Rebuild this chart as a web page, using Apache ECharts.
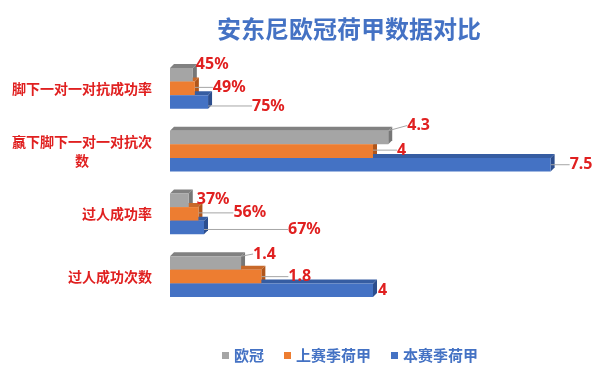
<!DOCTYPE html>
<html><head><meta charset="utf-8">
<script src="https://cdn.jsdelivr.net/npm/echarts@6/dist/echarts.min.js"></script>
<style>html,body{margin:0;padding:0;background:#fff}#c{width:600px;height:380px}</style>
</head><body><div id="c"></div>
<script>
const categories = ['脚下一对一对抗成功率', '赢下脚下一对一对抗次数', '过人成功率', '过人成功次数'];
const seriesNames = ['欧冠', '上赛季荷甲', '本赛季荷甲'];
const uclValues = [0.45, 4.3, 0.37, 1.4];
const lastSeasonValues = [0.49, 4, 0.56, 1.8];
const thisSeasonValues = [0.75, 7.5, 0.67, 4];
const percentCategory = [true, false, true, false];

const allValues = [uclValues, lastSeasonValues, thisSeasonValues];
const colors = [
  {front: '#A5A5A5', top: '#818181', side: '#777777'},
  {front: '#ED7D31', top: '#C8692A', side: '#B0561B'},
  {front: '#4472C4', top: '#365DA2', side: '#2C4E8E'}
];
const labelOffsets = [
  [[3, -10], [19, -12], [8, -1], [12, -9]],
  [[18, -1], [24, -1], [35, -1], [27, 0]],
  [[44, 4], [19, 0], [84, 2], [5, 0]]
];
const showLine = [[false, true, false, true], [true, true, true, true], [true, true, true, false]];
const CAT_GAP = 0.35;
const DEPTH = 4;
const RED = '#E02020';
const BLUE = '#4472C4';

function makeFaces(k) {
  return function (params, api) {
    const v = api.value(0), c = api.value(1);
    const pEnd = api.coord([v, c]);
    const p0 = api.coord([0, c]);
    const band = api.size([0, 1])[1];
    const h = band * (1 - CAT_GAP) / 3;
    const y0 = pEnd[1] - 1.5 * h + k * h;
    const y1 = y0 + h;
    const x0 = p0[0], x1 = pEnd[0];
    const d = DEPTH;
    return {type: 'group', children: [
      {type: 'polygon', shape: {points: [[x0, y0], [x0 + d, y0 - d], [x1 + d, y0 - d], [x1, y0]]}, style: {fill: colors[k].top}},
      {type: 'polygon', shape: {points: [[x1, y0], [x1 + d, y0 - d], [x1 + d, y1 - d], [x1, y1]]}, style: {fill: colors[k].side}}
    ]};
  };
}

const series = [];
allValues.forEach(function (vals, k) {
  series.push({
    type: 'bar', name: seriesNames[k],
    data: vals.map(function (v, i) { return {value: v, labelLine: {show: showLine[k][i]}}; }),
    barGap: '0%', barCategoryGap: (CAT_GAP * 100) + '%',
    itemStyle: {color: colors[k].front}, z: 3,
    label: {show: true, position: 'right', distance: 0, color: RED, fontFamily: 'Noto Sans', fontWeight: 'bold', fontSize: 16,
      formatter: function (p) { return percentCategory[p.dataIndex] ? Math.round(p.value * 100) + '%' : String(p.value); }},
    labelLine: {show: true, lineStyle: {color: '#A6A6A6', width: 1}},
    labelLayout: function (p) { const o = labelOffsets[k][p.dataIndex]; return {dx: o[0], dy: o[1]}; }
  });
});
allValues.forEach(function (vals, k) {
  series.push({
    type: 'custom', name: 'faces' + k, silent: true, z: 1,
    data: vals.map(function (v, i) { return [v, i]; }),
    encode: {x: 0, y: 1},
    renderItem: makeFaces(k)
  });
});

const chart = echarts.init(document.getElementById('c'));
chart.setOption({
  animation: false,
  title: {text: '安东尼欧冠荷甲数据对比', left: 212, top: 12,
    textStyle: {color: BLUE, fontSize: 24, fontWeight: 'bold', fontFamily: 'Noto Sans CJK SC'}},
  legend: {data: seriesNames, left: 217, top: 343, icon: 'rect', itemWidth: 7, itemHeight: 7, itemGap: 20,
    textStyle: {color: BLUE, fontSize: 15, fontWeight: 'bold', fontFamily: 'Noto Sans CJK SC'}},
  grid: {left: 170, right: 24, top: 57, bottom: 72},
  xAxis: {type: 'value', min: 0, max: 8, show: false},
  yAxis: {type: 'category', inverse: true, data: categories,
    axisLine: {show: false}, axisTick: {show: false},
    axisLabel: {color: RED, fontSize: 14, margin: 18, fontWeight: 'bold', fontFamily: 'Noto Sans CJK SC',
      formatter: function (v) { return v.length > 10 ? '{a|' + v.slice(0, 10) + '}\n{b|' + v.slice(10) + '}' : v; },
      rich: {a: {color: RED, fontSize: 14, fontWeight: 'bold', fontFamily: 'Noto Sans CJK SC', lineHeight: 19},
             b: {color: RED, fontSize: 14, fontWeight: 'bold', fontFamily: 'Noto Sans CJK SC', align: 'center', lineHeight: 19}}}},
  series: series
});
</script></body></html>
